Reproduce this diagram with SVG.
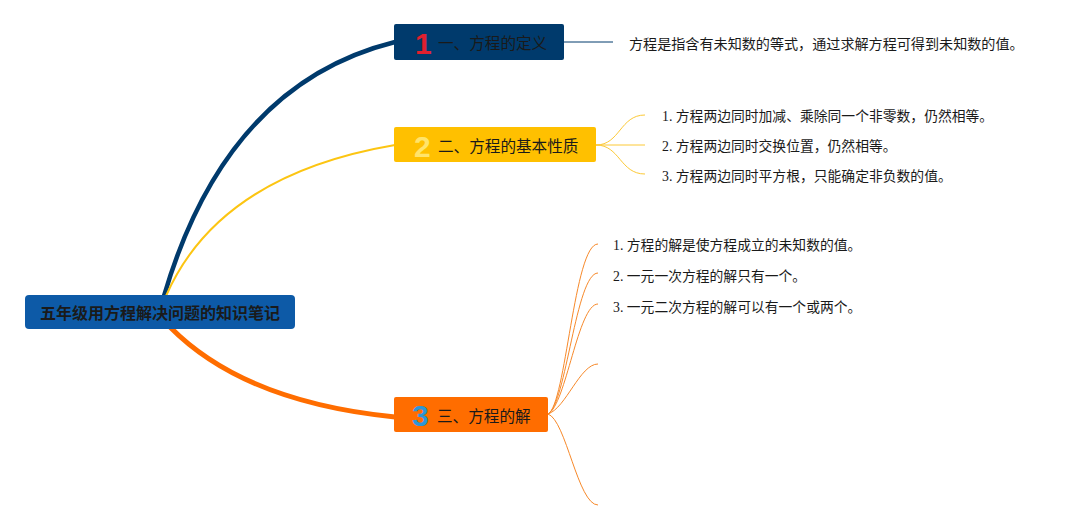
<svg xmlns="http://www.w3.org/2000/svg" width="1081" height="530" viewBox="0 0 1081 530">
<style>
.lbl{font-family:"Noto Sans CJK SC","Noto Sans",sans-serif;font-size:15.6px;fill:#1a1a1a;dominant-baseline:central}
.num{font-family:"Liberation Sans","Noto Sans",sans-serif;font-size:30px;font-weight:bold;dominant-baseline:central}
.item{font-family:"Liberation Serif","Noto Sans CJK SC",serif;font-size:13.8px;fill:#1a1a1a;dominant-baseline:central}
.root{font-family:"Noto Sans CJK SC","Noto Sans",sans-serif;font-size:16px;font-weight:bold;fill:#1a1a1a;dominant-baseline:central;text-anchor:middle}
.thin{fill:none;stroke-width:1}
</style>
<rect width="1081" height="530" fill="#ffffff"/>
<g id="connectors" fill="none">
  <path d="M164,296 Q226,84 395,42" stroke="#003a6c" stroke-width="4.5"/>
  <path d="M166,296 Q219,175 395,145" stroke="#fcc512" stroke-width="2"/>
  <path d="M170,327 Q244,402 395,417" stroke="#ff6d00" stroke-width="5"/>
  <path d="M564,42 L613,42" stroke="#003a6c" class="thin"/>
  <g stroke="#fcc936" class="thin">
    <path d="M596,145 C620,145 620,115 645,115"/>
    <path d="M596,145 L645,145"/>
    <path d="M596,145 C620,145 620,174 645,174"/>
  </g>
  <g stroke="#f7892a" class="thin">
    <path d="M548,414 C566,405 574,244 598,244"/>
    <path d="M548,414 C566,405 576,273 598,273"/>
    <path d="M548,414 C566,405 578,304 598,304"/>
    <path d="M548,414 C566,408 580,364 598,364"/>
    <path d="M548,414 C566,420 578,505 598,505"/>
  </g>
</g>
<g id="root">
  <rect x="25" y="295" width="270" height="34" rx="4" fill="#0d5aa7"/>
  <text class="root" x="160" y="312">五年级用方程解决问题的知识笔记</text>
</g>
<g id="node1">
  <rect x="394" y="24" width="170" height="36" rx="2" fill="#003a6c"/>
  <text class="num" x="415" y="43" fill="#e0202e">1</text>
  <text class="lbl" x="438" y="42">一、方程的定义</text>
</g>
<g id="node1-def">
  <text class="item" x="629" y="44" style="font-size:14.1px">方程是指含有未知数的等式，通过求解方程可得到未知数的值。</text>
</g>
<g id="node2">
  <rect x="394" y="127" width="202" height="35" rx="2" fill="#ffc000"/>
  <text class="num" x="414" y="146" fill="#ffe46b">2</text>
  <text class="lbl" x="438" y="145">二、方程的基本性质</text>
</g>
<g id="node2-items">
  <text class="item" x="662" y="116">1. 方程两边同时加减、乘除同一个非零数，仍然相等。</text>
  <text class="item" x="662" y="146">2. 方程两边同时交换位置，仍然相等。</text>
  <text class="item" x="662" y="176">3. 方程两边同时平方根，只能确定非负数的值。</text>
</g>
<g id="node3">
  <rect x="394" y="397" width="154" height="35" rx="2" fill="#ff6d00"/>
  <text class="num" x="412" y="415" fill="#2e96d6">3</text>
  <text class="lbl" x="437" y="415">三、方程的解</text>
</g>
<g id="node3-items">
  <text class="item" x="613" y="245">1. 方程的解是使方程成立的未知数的值。</text>
  <text class="item" x="613" y="276">2. 一元一次方程的解只有一个。</text>
  <text class="item" x="613" y="307">3. 一元二次方程的解可以有一个或两个。</text>
</g>
</svg>
